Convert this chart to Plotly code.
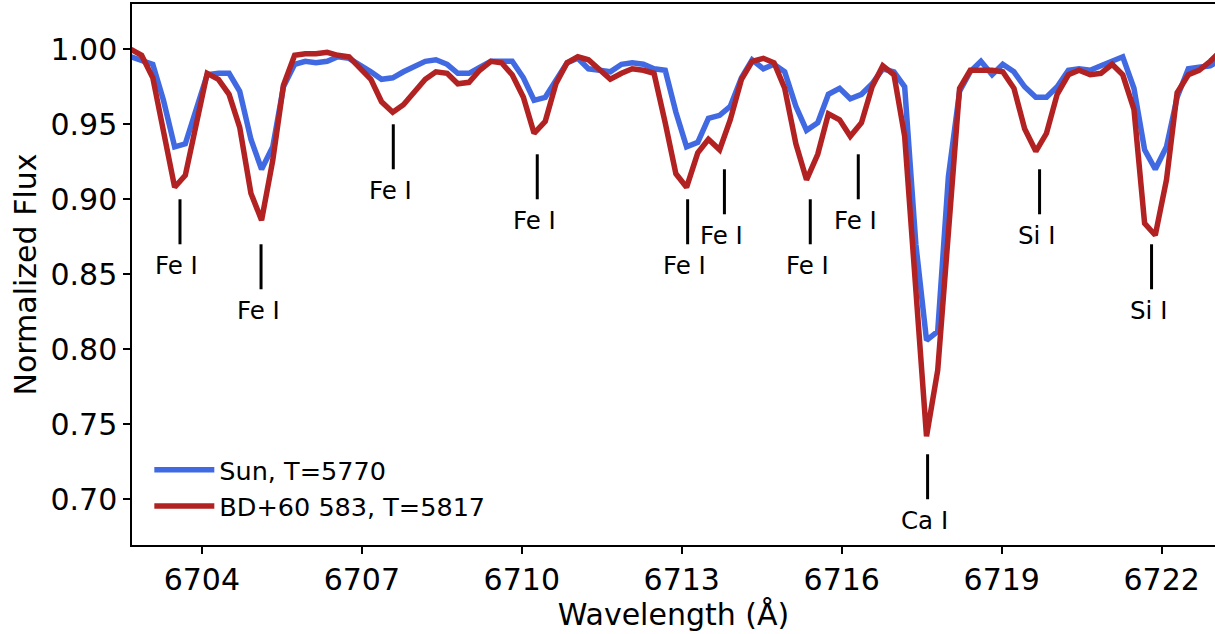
import plotly.graph_objects as go

# Wavelength grid (Angstrom) shared by both spectra
wavelength = [
    6702.67, 6702.87, 6703.08, 6703.28, 6703.49, 6703.69, 6703.90, 6704.10, 6704.31, 6704.51,
    6704.71, 6704.92, 6705.12, 6705.33, 6705.53, 6705.74, 6705.94, 6706.14, 6706.35, 6706.55,
    6706.76, 6706.96, 6707.17, 6707.37, 6707.58, 6707.78, 6707.98, 6708.19, 6708.39, 6708.60,
    6708.80, 6709.01, 6709.21, 6709.42, 6709.62, 6709.82, 6710.03, 6710.23, 6710.44, 6710.64,
    6710.85, 6711.05, 6711.25, 6711.46, 6711.66, 6711.87, 6712.07, 6712.28, 6712.48, 6712.69,
    6712.89, 6713.09, 6713.30, 6713.50, 6713.71, 6713.91, 6714.12, 6714.32, 6714.53, 6714.73,
    6714.93, 6715.14, 6715.34, 6715.55, 6715.75, 6715.96, 6716.16, 6716.37, 6716.57, 6716.77,
    6716.98, 6717.18, 6717.39, 6717.59, 6717.80, 6718.00, 6718.21, 6718.41, 6718.61, 6718.82,
    6719.02, 6719.23, 6719.43, 6719.64, 6719.84, 6720.04, 6720.25, 6720.45, 6720.66, 6720.86,
    6721.07, 6721.27, 6721.48, 6721.68, 6721.88, 6722.09, 6722.29, 6722.50, 6722.70, 6722.91,
    6723.11,
]

# Normalized flux of the Sun
flux_sun = [
    0.995, 0.993, 0.990, 0.966, 0.935, 0.937, 0.962, 0.983, 0.984, 0.984,
    0.972, 0.940, 0.920, 0.935, 0.975, 0.990, 0.992, 0.991, 0.992, 0.995,
    0.994, 0.990, 0.985, 0.980, 0.981, 0.985, 0.988, 0.992, 0.993, 0.990,
    0.984, 0.984, 0.988, 0.992, 0.992, 0.992, 0.981, 0.966, 0.968, 0.980,
    0.991, 0.994, 0.987, 0.986, 0.985, 0.990, 0.991, 0.990, 0.987, 0.986,
    0.958, 0.935, 0.938, 0.954, 0.956, 0.962, 0.981, 0.993, 0.987, 0.990,
    0.985, 0.962, 0.946, 0.951, 0.970, 0.974, 0.967, 0.970, 0.977, 0.987,
    0.985, 0.975, 0.870, 0.806, 0.812, 0.915, 0.972, 0.985, 0.992, 0.983,
    0.990, 0.985, 0.975, 0.968, 0.968, 0.975, 0.986, 0.987, 0.986, 0.989,
    0.992, 0.995, 0.974, 0.933, 0.920, 0.935, 0.968, 0.987, 0.988, 0.989,
    0.993,
]

# Normalized flux of BD+60 583
flux_bd = [
    1.000, 0.996, 0.981, 0.946, 0.908, 0.916, 0.953, 0.984, 0.980, 0.970,
    0.948, 0.904, 0.886, 0.926, 0.976, 0.996, 0.997, 0.997, 0.998, 0.996,
    0.995, 0.988, 0.980, 0.965, 0.958, 0.963, 0.972, 0.980, 0.985, 0.984,
    0.977, 0.978, 0.986, 0.992, 0.991, 0.983, 0.968, 0.944, 0.952, 0.977,
    0.991, 0.995, 0.993, 0.986, 0.980, 0.984, 0.987, 0.986, 0.984, 0.951,
    0.917, 0.908, 0.931, 0.940, 0.933, 0.953, 0.980, 0.992, 0.994, 0.991,
    0.974, 0.937, 0.913, 0.930, 0.957, 0.953, 0.942, 0.951, 0.975, 0.989,
    0.983, 0.942, 0.835, 0.742, 0.786, 0.875, 0.974, 0.986, 0.986, 0.986,
    0.985, 0.974, 0.947, 0.932, 0.944, 0.970, 0.983, 0.986, 0.983, 0.984,
    0.990, 0.983, 0.960, 0.884, 0.876, 0.913, 0.971, 0.983, 0.986, 0.992,
    0.999,
]

# Identified absorption lines: label, wavelength and flux at the top of the marker
line_names = ["Fe I", "Fe I", "Fe I", "Fe I", "Fe I", "Fe I", "Fe I", "Fe I",
              "Ca I", "Si I", "Si I"]
line_wavelengths = [6703.59, 6705.11, 6707.59, 6710.29, 6713.11, 6713.80,
                    6715.41, 6716.31, 6717.61, 6719.71, 6721.81]
line_marker_top = [0.900, 0.870, 0.950, 0.930, 0.900, 0.920,
                   0.900, 0.930, 0.730, 0.920, 0.870]
marker_length = 0.03

x_ticks = [6704, 6707, 6710, 6713, 6716, 6719, 6722]
y_ticks = [0.70, 0.75, 0.80, 0.85, 0.90, 0.95, 1.00]

FONT = "DejaVu Sans"

fig = go.Figure()
fig.add_trace(go.Scatter(
    x=wavelength, y=flux_sun, mode="lines", name="Sun, T=5770",
    line=dict(color="royalblue", width=5.5),
))
fig.add_trace(go.Scatter(
    x=wavelength, y=flux_bd, mode="lines", name="BD+60 583, T=5817",
    line=dict(color="firebrick", width=5.5),
))

# Vertical markers with element labels beneath each line
for name, wl, top in zip(line_names, line_wavelengths, line_marker_top):
    fig.add_shape(
        type="line", xref="x", yref="y",
        x0=wl, x1=wl, y0=top, y1=top - marker_length,
        line=dict(color="black", width=3),
    )
    fig.add_annotation(
        x=wl, y=top - marker_length, xref="x", yref="y",
        text=name, showarrow=False, yanchor="middle", yshift=-21, xshift=-3,
        font=dict(family=FONT, size=24.5, color="black"),
    )

fig.update_layout(
    width=1215, height=634,
    margin=dict(l=132, r=0, t=4, b=89),
    paper_bgcolor="white", plot_bgcolor="white",
    font=dict(family=FONT, color="black"),
    showlegend=True,
    legend=dict(
        x=0.016, y=0.105, xanchor="left", yanchor="middle",
        bgcolor="rgba(0,0,0,0)", font=dict(family=FONT, size=25.5, color="black"),
        itemwidth=60, tracegroupgap=0,
    ),
)
fig.update_xaxes(
    range=[6702.69, 6723.0], tickvals=x_ticks,
    ticks="outside", ticklen=7, tickwidth=1.5, tickcolor="black",
    showline=True, linecolor="black", linewidth=1.5, mirror=True,
    showgrid=False, zeroline=False,
    tickfont=dict(family=FONT, size=30, color="black"),
    title=dict(text="Wavelength (Å)", font=dict(family=FONT, size=30, color="black"), standoff=8),
)
fig.update_yaxes(
    range=[0.6695, 1.0302], tickvals=y_ticks, tickformat=".2f",
    ticks="outside", ticklen=7, tickwidth=1.5, tickcolor="black",
    showline=True, linecolor="black", linewidth=1.5, mirror=False,
    showgrid=False, zeroline=False,
    tickfont=dict(family=FONT, size=30, color="black"),
    title=dict(text="Normalized Flux", font=dict(family=FONT, size=30, color="black"), standoff=5),
)

fig.write_html("out.html")
